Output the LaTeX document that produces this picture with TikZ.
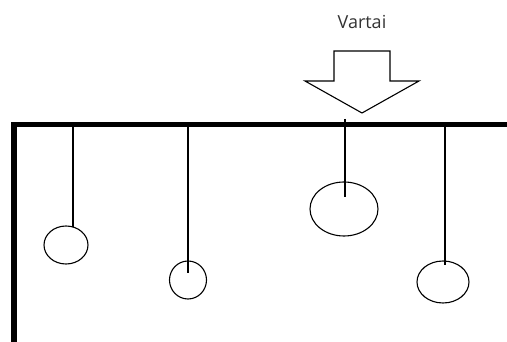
\documentclass[tikz,border=0pt]{standalone}
\usepackage{fontspec}
\setmainfont{Open Sans}
\usetikzlibrary{shapes.geometric}
\begin{document}
\begin{tikzpicture}[x=1pt,y=-1pt,
  wall/.style={line width=5.5pt,line join=miter},
  cord/.style={line width=1.1pt},
  bob/.style={draw,ellipse,line width=1.1pt,inner sep=0pt},
  pointer/.style={draw,line width=1.1pt,line join=miter,fill=white},
  caption/.style={text=black!80,font=\fontsize{18}{21}\selectfont}]
  \useasboundingbox (0,0) rectangle (507,342);
  % ceiling and wall
  \draw[wall] (509,124.5) -- (14,124.5) -- (14,345);
  % hanging weights
  \node[bob,minimum width=44pt,minimum height=38pt] (b1) at (66,245) {};
  \node[bob,minimum width=37pt,minimum height=38pt] (b2) at (188,280) {};
  \node[bob,minimum width=68pt,minimum height=54pt] (b3) at (344,209) {};
  \node[bob,minimum width=52pt,minimum height=42pt] (b4) at (443,282) {};
  \coordinate (t1) at (73,124.5);
  \coordinate (t2) at (188,124.5);
  \coordinate (t3) at (345,119);
  \coordinate (t4) at (445,124.5);
  \coordinate (e1) at (73,227);
  \coordinate (e2) at (188,273);
  \coordinate (e3) at (345,197);
  \coordinate (e4) at (445,265);
  \draw[cord] (t1) -- (e1);
  \draw[cord] (t2) -- (e2);
  \draw[cord] (t3) -- (e3);
  \draw[cord] (t4) -- (e4);
  % arrow pointing down at the ceiling
  \draw[pointer] (334,51) -- (390,51) -- (390,81) -- (419,81) -- (362,113)
    -- (305,81) -- (334,81) -- cycle;
  \node[caption] (label) at (362,22) {Vartai};
\end{tikzpicture}
\end{document}
